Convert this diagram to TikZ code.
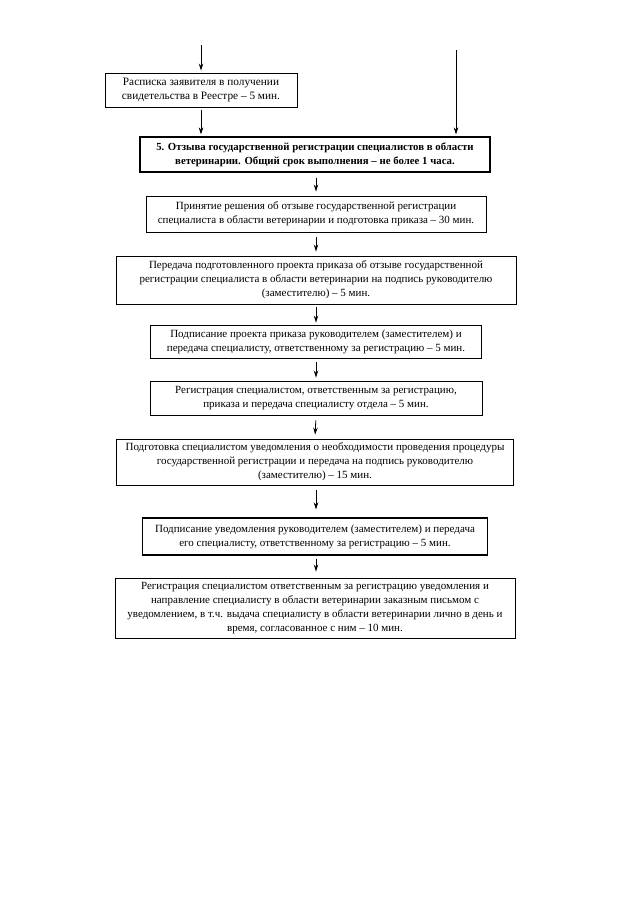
\documentclass[tikz,border=0pt]{standalone}
\usepackage{fontspec}
\setmainfont{Liberation Serif}
\usetikzlibrary{arrows.meta}
\begin{document}
\begin{tikzpicture}[x=1pt,y=-1pt,
  box/.style={draw, line width=0.9pt, inner sep=0pt, align=center,
    font=\fontsize{11}{14}\selectfont},
  arr/.style={line width=0.8pt, -{Stealth[length=7pt,width=4.5pt]}},
  ]
\useasboundingbox (0,0) rectangle (633,905);
\node[box, minimum width=192pt, minimum height=34pt, font=\fontsize{11.3}{14}\selectfont] (b1) at (201,90)
  {Расписка заявителя в получении\\свидетельства в Реестре – 5 мин.};
\node[box, line width=1.1pt, minimum width=350pt, minimum height=35pt, font=\fontsize{10.8}{14}\selectfont\bfseries] (b5) at (315,154.5)
  {5. Отзыва государственной регистрации специалистов в области\\ветеринарии. Общий срок выполнения – не более 1 часа.};
\node[box, minimum width=340pt, minimum height=36pt] (c1) at (316,214)
  {Принятие решения об отзыве государственной регистрации\\специалиста в области ветеринарии и подготовка приказа – 30 мин.};
\node[box, minimum width=400pt, minimum height=48pt] (c2) at (316,280)
  {Передача подготовленного проекта приказа об отзыве государственной\\регистрации специалиста в области ветеринарии на подпись руководителю\\(заместителю) – 5 мин.};
\node[box, minimum width=331pt, minimum height=33pt] (c3) at (316,341.5)
  {Подписание проекта приказа руководителем (заместителем) и\\передача специалисту, ответственному за регистрацию – 5 мин.};
\node[box, minimum width=332pt, minimum height=34pt] (c4) at (316,398)
  {Регистрация специалистом, ответственным за регистрацию,\\приказа и передача специалисту отдела – 5 мин.};
\node[box, minimum width=397pt, minimum height=46pt] (c5) at (315,462)
  {Подготовка специалистом уведомления о необходимости проведения процедуры\\государственной регистрации и передача на подпись руководителю\\(заместителю) – 15 мин.};
\node[box, line width=1.1pt, minimum width=345pt, minimum height=37pt] (c6) at (315,536.5)
  {Подписание уведомления руководителем (заместителем) и передача\\его специалисту, ответственному за регистрацию – 5 мин.};
\node[box, minimum width=400pt, minimum height=60pt] (c7) at (315,608)
  {Регистрация специалистом ответственным за регистрацию уведомления и\\направление специалисту в области ветеринарии заказным письмом с\\уведомлением, в т.ч. выдача специалисту в области ветеринарии лично в день и\\время, согласованное с ним – 10 мин.};
\coordinate (t1) at (201,45);
\coordinate (t2) at (456,50);
\draw[arr, shorten >=2pt] (t1) -- (b1.north);
\draw[arr, shorten <=3pt, shorten >=2pt] (b1.south) -- (b1.south |- b5.north);
\draw[arr, shorten >=2pt] (t2) -- (t2 |- b5.north);
\draw[arr, shorten <=5pt, shorten >=4pt] (b5.south -| c1.north) -- (c1.north);
\draw[arr, shorten <=5pt, shorten >=4pt] (c1.south) -- (c2.north);
\draw[arr, shorten <=3pt, shorten >=2pt] (c2.south) -- (c3.north);
\draw[arr, shorten <=4pt, shorten >=3pt] (c3.south) -- (c4.north);
\draw[arr, shorten <=5pt, shorten >=4pt] (c4.south) -- (c5.north);
\draw[arr, shorten <=5pt, shorten >=8pt] (c5.south -| c4.south) -- (c4.south |- c6.north);
\draw[arr, shorten <=3pt, shorten >=6pt] (c6.south -| c4.south) -- (c4.south |- c7.north);
\end{tikzpicture}
\end{document}
